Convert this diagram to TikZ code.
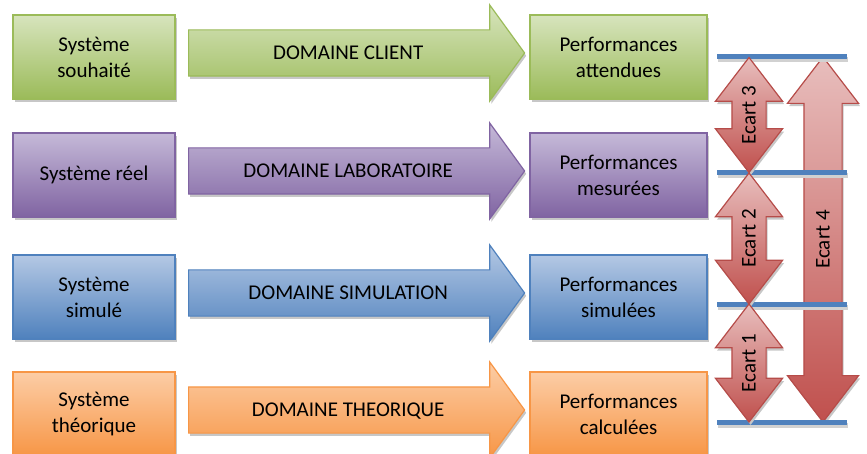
\documentclass[tikz,border=0pt]{standalone}
\usepackage{fontspec}
\setmainfont{Carlito}
\usepackage{tikz}
\usetikzlibrary{shapes,arrows,positioning,calc,shadows}

\definecolor{vertclair}{HTML}{D7E4BD}
\definecolor{vertfonce}{HTML}{9BBB59}
\definecolor{violetclair}{HTML}{C5B9D8}
\definecolor{violetfonce}{HTML}{8064A2}
\definecolor{bleuclair}{HTML}{B4C8E4}
\definecolor{bleufonce}{HTML}{4F81BD}
\definecolor{orangeclair}{HTML}{FCCDA6}
\definecolor{orangefonce}{HTML}{F79646}
\definecolor{rougeclair}{HTML}{E8BEBD}
\definecolor{rougefonce}{HTML}{C0504D}

\tikzset{
  ombre/.style={drop shadow={shadow xshift=0.8pt, shadow yshift=-1.4pt, fill=black!22, opacity=1}},
  boite/.style={rectangle, minimum width=81pt, minimum height=42pt, align=center, line width=0.6pt, ombre},
  perf/.style={boite, minimum width=88.5pt},
  domaine/.style={single arrow, anchor=tail, minimum height=168pt, minimum width=47.5pt,
    single arrow head extend=12.5pt, single arrow tip angle=108, text height=7.85pt, text depth=1.15pt,
    inner ysep=6.75pt, line width=0.6pt, ombre},
  ecart/.style={double arrow, rotate=90, inner xsep=0pt, inner ysep=8.25pt, minimum width=33pt,
    double arrow head extend=8.25pt, double arrow tip angle=75, line width=0.6pt,
    draw=rougefonce!95!black, top color=rougeclair, bottom color=rougefonce, ombre},
  vert/.style={draw=vertfonce, top color=vertclair, bottom color=vertfonce},
  violet/.style={draw=violetfonce, top color=violetclair, bottom color=violetfonce},
  bleu/.style={draw=bleufonce, top color=bleuclair, bottom color=bleufonce},
  orange/.style={draw=orangefonce, top color=orangeclair, bottom color=orangefonce},
  niveau/.style={line width=2.5pt, draw=bleufonce}
}

\begin{document}
\begin{tikzpicture}[x=0.5pt, y=-0.5pt, font=\fontsize{10.5}{13}\selectfont]
    \useasboundingbox (0,0) rectangle (867,454);

    % Systemes
    \node[boite, vert] (sys1) at (94,57) {Système\\souhaité};
    \node[boite, violet] (sys2) at (94,175) {Système réel};
    \node[boite, bleu] (sys3) at (94,297) {Système\\simulé};
    \node[boite, orange] (sys4) at (94,414) {Système\\théorique};

    % Domaines
    \node[domaine, vert] (dom1) at (188,53) {DOMAINE CLIENT};
    \node[domaine, violet] (dom2) at (188,171) {DOMAINE LABORATOIRE};
    \node[domaine, bleu] (dom3) at (188,293) {DOMAINE SIMULATION};
    \node[domaine, orange] (dom4) at (188,410) {DOMAINE THEORIQUE};

    % Performances
    \node[perf, vert] (perf1) at (618.5,57) {Performances\\attendues};
    \node[perf, violet] (perf2) at (618.5,175) {Performances\\mesurées};
    \node[perf, bleu] (perf3) at (618.5,297) {Performances\\simulées};
    \node[perf, orange] (perf4) at (618.5,414) {Performances\\calculées};

    % Niveaux
    \coordinate (n1) at (717,57);
    \coordinate (n2) at (717,173);
    \coordinate (n3) at (717,304);
    \coordinate (n4) at (717,422);

    % Ecart global
    \node[ecart, minimum height=182.5pt, inner ysep=9.25pt, minimum width=35.5pt]
        (ecart4) at ($(n1)!0.5!(n4)+(106,0)$) {};
    \node[rotate=90] (lab4) at (ecart4) {Ecart 4};

    \foreach \n in {n1,n2,n3,n4} {
        \draw[line width=2.5pt, black!18] ($(\n)+(1,3)$) -- ++(130,0);
        \draw[niveau] (\n) -- ++(130,0);
    }

    % Ecarts
    \node[ecart, minimum height=57.5pt] (ecart3) at ($(n1)!0.5!(n2)+(32,0)$) {};
    \node[ecart, minimum height=65.5pt] (ecart2) at ($(n2)!0.5!(n3)+(32,0)$) {};
    \node[ecart, minimum height=59pt] (ecart1) at ($(n3)!0.5!(n4)+(32,0)$) {};
    \node[rotate=90] (lab3) at (ecart3) {Ecart 3};
    \node[rotate=90] (lab2) at (ecart2) {Ecart 2};
    \node[rotate=90] (lab1) at (ecart1) {Ecart 1};
\end{tikzpicture}
\end{document}
